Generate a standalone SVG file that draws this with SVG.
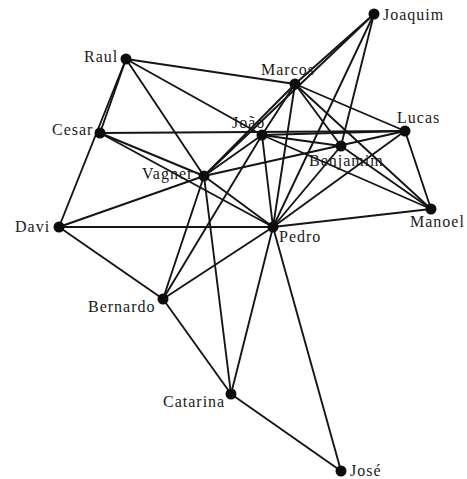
<svg xmlns="http://www.w3.org/2000/svg" width="467" height="479" viewBox="0 0 467 479">
<style>
.e{stroke:#151515;stroke-width:1.9;fill:none;stroke-linecap:round}
.n{fill:#0d0d0d}
.t{font-family:"Liberation Serif","Times New Roman",serif;font-size:16px;letter-spacing:1px;fill:#1a1a1a}
</style>
<rect width="467" height="479" fill="#fff"/>
<g id="connectors">
<line class="e" x1="126" y1="59" x2="295" y2="84"/>
<line class="e" x1="126" y1="59" x2="262" y2="135"/>
<line class="e" x1="126" y1="59" x2="204" y2="176"/>
<line class="e" x1="126" y1="59" x2="100" y2="133"/>
<line class="e" x1="126" y1="59" x2="59" y2="227"/>
<line class="e" x1="100" y1="133" x2="405" y2="131"/>
<line class="e" x1="100" y1="133" x2="204" y2="176"/>
<line class="e" x1="100" y1="133" x2="273" y2="227"/>
<line class="e" x1="59" y1="227" x2="204" y2="176"/>
<line class="e" x1="59" y1="227" x2="273" y2="227"/>
<line class="e" x1="59" y1="227" x2="163" y2="299"/>
<line class="e" x1="204" y1="176" x2="262" y2="135"/>
<line class="e" x1="204" y1="176" x2="295" y2="84"/>
<line class="e" x1="204" y1="176" x2="374" y2="14"/>
<line class="e" x1="204" y1="176" x2="405" y2="131"/>
<line class="e" x1="204" y1="176" x2="273" y2="227"/>
<line class="e" x1="204" y1="176" x2="163" y2="299"/>
<line class="e" x1="204" y1="176" x2="231" y2="394"/>
<line class="e" x1="374" y1="14" x2="295" y2="84"/>
<line class="e" x1="374" y1="14" x2="273" y2="227"/>
<line class="e" x1="374" y1="14" x2="341" y2="146"/>
<line class="e" x1="295" y1="84" x2="262" y2="135"/>
<line class="e" x1="295" y1="84" x2="405" y2="131"/>
<line class="e" x1="295" y1="84" x2="341" y2="146"/>
<line class="e" x1="295" y1="84" x2="431" y2="209"/>
<line class="e" x1="295" y1="84" x2="273" y2="227"/>
<line class="e" x1="262" y1="135" x2="405" y2="131"/>
<line class="e" x1="262" y1="135" x2="341" y2="146"/>
<line class="e" x1="262" y1="135" x2="431" y2="209"/>
<line class="e" x1="262" y1="135" x2="273" y2="227"/>
<line class="e" x1="262" y1="135" x2="163" y2="299"/>
<line class="e" x1="341" y1="146" x2="431" y2="209"/>
<line class="e" x1="341" y1="146" x2="273" y2="227"/>
<line class="e" x1="405" y1="131" x2="431" y2="209"/>
<line class="e" x1="405" y1="131" x2="273" y2="227"/>
<line class="e" x1="431" y1="209" x2="273" y2="227"/>
<line class="e" x1="273" y1="227" x2="163" y2="299"/>
<line class="e" x1="273" y1="227" x2="231" y2="394"/>
<line class="e" x1="273" y1="227" x2="341" y2="471"/>
<line class="e" x1="163" y1="299" x2="231" y2="394"/>
<line class="e" x1="231" y1="394" x2="341" y2="471"/>
</g>
<g id="raul"><circle class="n" cx="126" cy="59" r="5.5"/><text class="t" x="84" y="62">Raul</text></g>
<g id="cesar"><circle class="n" cx="100" cy="133" r="5.5"/><text class="t" x="52" y="135">Cesar</text></g>
<g id="vagner"><circle class="n" cx="204" cy="176" r="5.5"/><text class="t" x="142" y="179">Vagner</text></g>
<g id="davi"><circle class="n" cx="59" cy="227" r="5.5"/><text class="t" x="15" y="232">Davi</text></g>
<g id="joaquim"><circle class="n" cx="374" cy="14" r="5.5"/><text class="t" x="383" y="20">Joaquim</text></g>
<g id="marcos"><circle class="n" cx="295" cy="84" r="5.5"/><text class="t" x="261" y="75">Marcos</text></g>
<g id="joao"><circle class="n" cx="262" cy="135" r="5.5"/><text class="t" x="232" y="128">João</text></g>
<g id="benjamim"><circle class="n" cx="341" cy="146" r="5.5"/><text class="t" x="309" y="166">Benjamim</text></g>
<g id="lucas"><circle class="n" cx="405" cy="131" r="5.5"/><text class="t" x="397" y="123">Lucas</text></g>
<g id="manoel"><circle class="n" cx="431" cy="209" r="5.5"/><text class="t" x="410" y="227">Manoel</text></g>
<g id="pedro"><circle class="n" cx="273" cy="227" r="5.5"/><text class="t" x="279" y="242">Pedro</text></g>
<g id="bernardo"><circle class="n" cx="163" cy="299" r="5.5"/><text class="t" x="88" y="312">Bernardo</text></g>
<g id="catarina"><circle class="n" cx="231" cy="394" r="5.5"/><text class="t" x="163" y="407">Catarina</text></g>
<g id="jose"><circle class="n" cx="341" cy="471" r="5.5"/><text class="t" x="350" y="476">José</text></g>
</svg>
